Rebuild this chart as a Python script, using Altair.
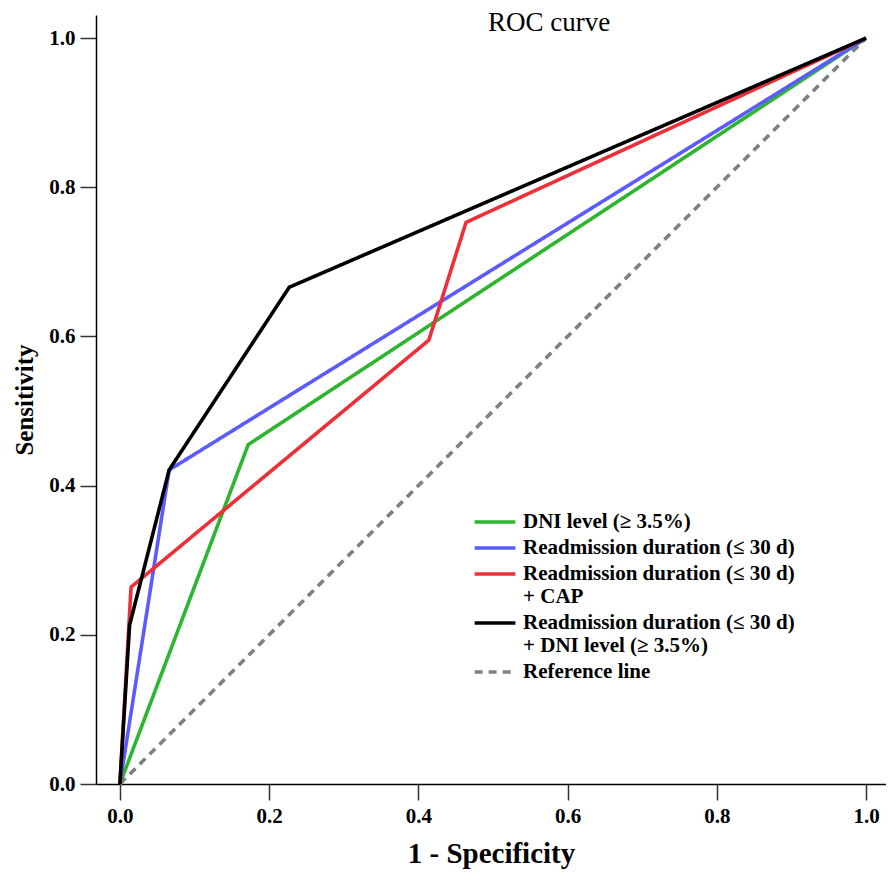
import altair as alt
import pandas as pd

# ---- data ----
series_names = [
    "DNI level (≥ 3.5%)",
    "Readmission duration (≤ 30 d)",
    "Readmission duration (≤ 30 d)|+ CAP",
    "Readmission duration (≤ 30 d)|+ DNI level (≥ 3.5%)",
    "Reference line",
]
series_colors = ["#2db52d", "#5b5bff", "#ee2f38", "#000000", "#808080"]
series_dash = [[1, 0], [1, 0], [1, 0], [1, 0], [8, 6]]

green_x = [0.0, 0.172, 1.0]
green_y = [0.0, 0.455, 1.0]
blue_x = [0.0, 0.066, 1.0]
blue_y = [0.0, 0.421, 1.0]
red_x = [0.0, 0.015, 0.414, 0.464, 1.0]
red_y = [0.0, 0.264, 0.595, 0.753, 1.0]
black_x = [0.0, 0.013, 0.066, 0.227, 1.0]
black_y = [0.0, 0.213, 0.421, 0.666, 1.0]
ref_x = [0.0, 1.0]
ref_y = [0.0, 1.0]

tick_values = [0.0, 0.2, 0.4, 0.6, 0.8, 1.0]

xs = [green_x, blue_x, red_x, black_x, ref_x]
ys = [green_y, blue_y, red_y, black_y, ref_y]
rows = []
for name, sx, sy in zip(series_names, xs, ys):
    for i, (a, b) in enumerate(zip(sx, sy)):
        rows.append({"series": name, "x": a, "y": b, "idx": i})
df = pd.DataFrame(rows)

FONT = "Liberation Serif"

color_scale = alt.Scale(domain=series_names, range=series_colors)
dash_scale = alt.Scale(domain=series_names, range=series_dash)

legend = alt.Legend(
    title=None,
    orient="none",
    legendX=385,
    legendY=493,
    symbolType="M-1.7,0H1.7",
    symbolSize=576,
    symbolStrokeWidth=3.5,
    labelFont=FONT,
    labelFontWeight="bold",
    labelFontSize=21,
    labelLimit=500,
    labelOffset=14,
    labelExpr="split(datum.label, '|')",
    rowPadding=2,
)

x_enc = alt.X(
    "x:Q",
    scale=alt.Scale(domain=[-0.032, 1.0268], nice=False, zero=False),
    axis=alt.Axis(values=tick_values, format=".1f", title="1 - Specificity", titlePadding=13),
)
y_enc = alt.Y(
    "y:Q",
    scale=alt.Scale(domain=[0, 1.031], nice=False),
    axis=alt.Axis(values=tick_values, format=".1f", title="Sensitivity", titlePadding=11,
                  titleFontSize=25),
)

layers = []
for name in [series_names[4], series_names[0], series_names[1], series_names[2], series_names[3]]:
    layers.append(
        alt.Chart(df)
        .transform_filter(alt.datum.series == name)
        .mark_line(strokeWidth=3.6, strokeJoin="miter", strokeCap="butt")
        .encode(
            x=x_enc,
            y=y_enc,
            order="idx:Q",
            color=alt.Color("series:N", scale=color_scale, legend=legend),
            strokeDash=alt.StrokeDash("series:N", scale=dash_scale, legend=legend),
        )
    )

chart = (
    alt.layer(*layers)
    .properties(
        width=790,
        height=769,
        title=alt.TitleParams(
            "ROC curve",
            font=FONT,
            fontSize=27,
            fontWeight="normal",
            color="#000000",
            anchor="middle",
            dx=58,
            dy=22,
            offset=0,
        ),
        padding={"left": 88, "top": 7, "right": 0, "bottom": 90},
        autosize=alt.AutoSizeParams(type="none"),
    )
    .configure_view(stroke=None)
    .configure_axis(
        grid=False,
        domainColor="#000000",
        domainWidth=1.5,
        tickColor="#333333",
        tickWidth=1.5,
        tickSize=16,
        labelFont=FONT,
        labelFontWeight="bold",
        labelFontSize=21,
        labelColor="#000000",
        labelPadding=5,
        titleFont=FONT,
        titleFontWeight="bold",
        titleFontSize=29,
        titleColor="#000000",
    )
)

chart.save("out.html", embed_options={"renderer": "svg", "actions": False})
